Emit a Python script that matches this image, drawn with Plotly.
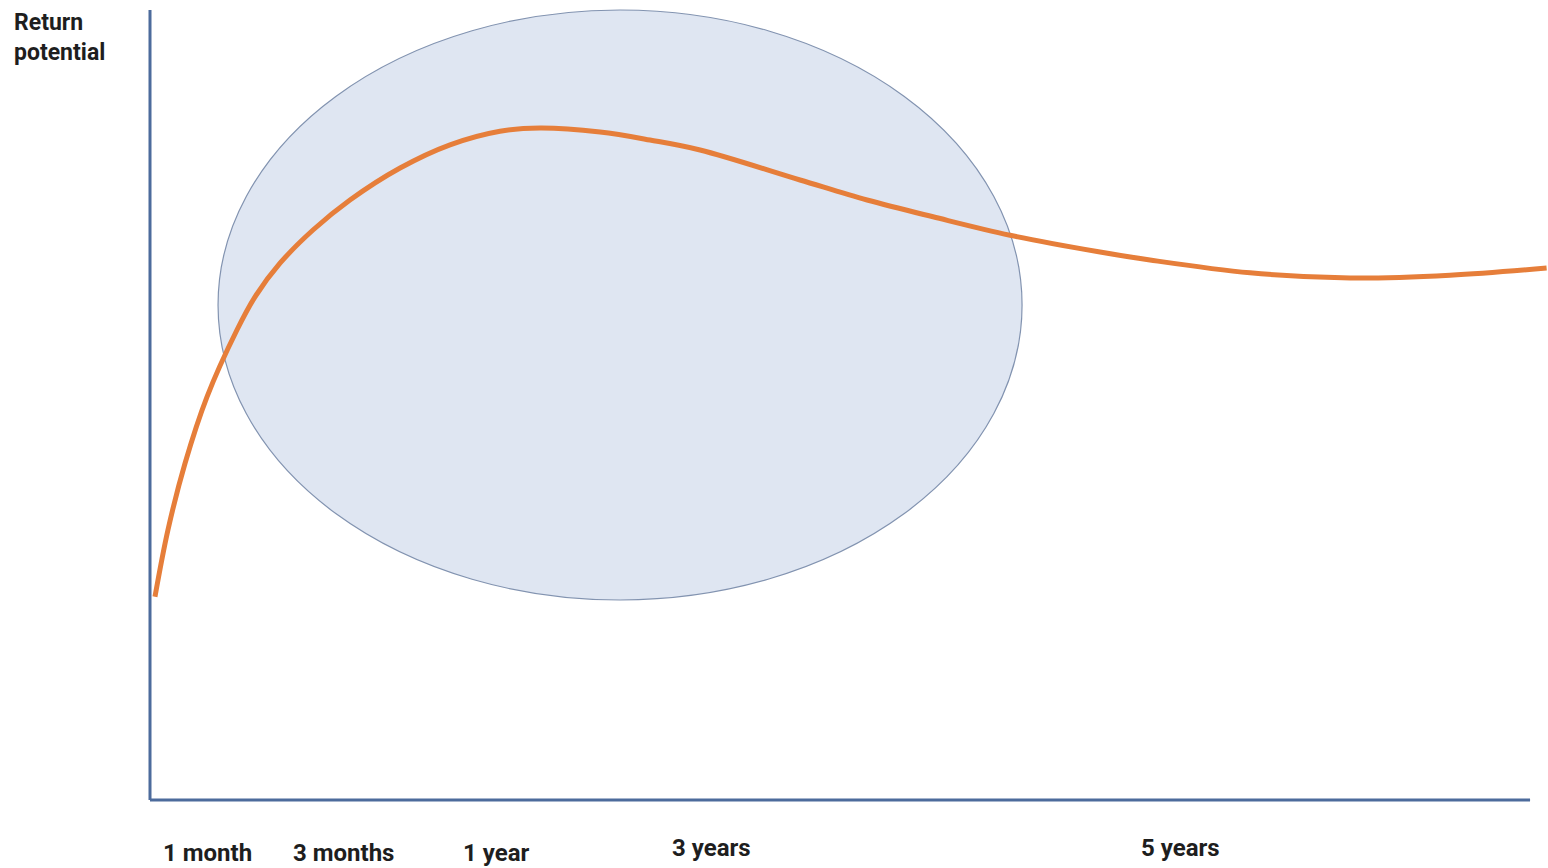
import plotly.graph_objects as go

# Return potential curve over the investment horizon (abstract units)
horizon = [0.36, 1.30, 2.54, 4.13, 6.30, 7.61, 9.42, 11.81, 14.49, 18.12, 21.74,
           25.36, 28.26, 32.61, 36.23, 39.86, 47.1, 51.96, 56.74, 62.32, 68.84,
           72.46, 79.71, 86.96, 94.2, 101.2]
return_potential = [25.4, 33.75, 42.1, 50.4, 58.75, 62.9, 67.1, 71.25, 75.0, 79.0,
                    81.9, 83.6, 84.0, 83.5, 82.5, 81.25, 77.5, 75.0, 72.9, 70.6,
                    68.5, 67.5, 65.9, 65.25, 65.6, 66.5]

# Horizon labels along the bottom
horizon_labels = ["1 month", "3 months", "1 year", "3 years", "5 years"]
horizon_label_x = [4.2, 14.0, 25.1, 40.7, 74.7]
horizon_label_y = [-0.066, -0.066, -0.066, -0.060, -0.060]  # paper units

# Sweet-spot zone (ellipse bounds)
zone_x = [4.93, 63.19]
zone_y = [25.0, 98.75]

X_MAX = 101.3
axis_color = "#4d6b9c"
font_family = "Roboto, 'DejaVu Sans', sans-serif"

fig = go.Figure()

fig.add_shape(type="circle", xref="x", yref="y",
              x0=zone_x[0], x1=zone_x[1], y0=zone_y[0], y1=zone_y[1],
              fillcolor="#dfe6f2", line=dict(color="#8293b0", width=1.2),
              layer="below")

fig.add_trace(go.Scatter(
    x=horizon, y=return_potential, mode="lines",
    line=dict(color="#e67e3a", width=5, shape="spline", smoothing=1.0),
    hoverinfo="skip", showlegend=False,
))

# Axis lines (paper-referenced so they are not clipped at the plot edge)
fig.add_shape(type="line", xref="paper", yref="paper", x0=0, x1=0, y0=0, y1=0.9875,
              line=dict(color=axis_color, width=3))
fig.add_shape(type="line", xref="paper", yref="paper", x0=0, x1=100 / X_MAX, y0=0, y1=0,
              line=dict(color=axis_color, width=3))

for label, lx, ly in zip(horizon_labels, horizon_label_x, horizon_label_y):
    fig.add_annotation(x=lx, y=ly, xref="x", yref="paper", text=label,
                       showarrow=False, xanchor="center", yanchor="middle",
                       font=dict(family=font_family, size=24, color="#1e1e1e",
                                 weight="bold"))

# Vertical axis title, placed in the left margin
fig.add_annotation(x=-0.0985, y=0.953, xref="paper", yref="paper",
                   xanchor="left", yanchor="middle", text="Return<br>potential",
                   showarrow=False, align="left",
                   font=dict(family=font_family, size=23, color="#1e1e1e",
                             weight="bold"))

fig.update_layout(
    width=1548, height=868,
    margin=dict(l=150, r=0, t=0, b=68),
    paper_bgcolor="white", plot_bgcolor="white",
    xaxis=dict(range=[0, X_MAX], visible=False, fixedrange=True),
    yaxis=dict(range=[0, 100], visible=False, fixedrange=True),
)

fig.write_html("out.html")
